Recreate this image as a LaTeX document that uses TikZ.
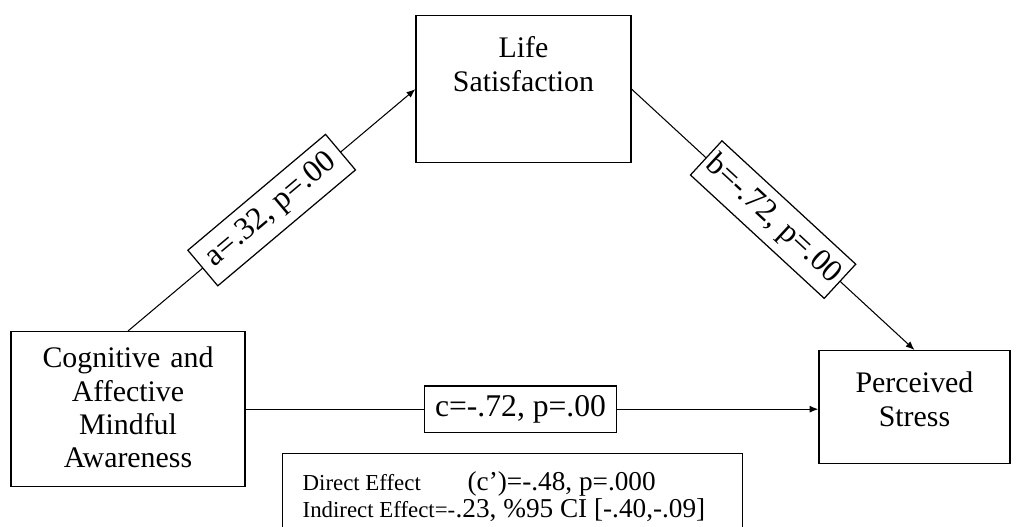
\documentclass[tikz,border=0pt]{standalone}
\usepackage{fontspec}
\setmainfont{Liberation Serif}
\usetikzlibrary{positioning, arrows.meta}

\begin{document}
\begin{tikzpicture}[x=0.02cm, y=-0.02cm,
  var/.style={draw, line width=0.8pt, align=center, inner sep=0pt, font=\fontsize{17}{19}\selectfont},
  coef/.style={draw, fill=white, line width=0.7pt, inner sep=0pt, minimum height=0.93cm, font=\fontsize{18}{20}\selectfont},
  link/.style={-{Latex[length=5pt,width=4pt]}, line width=0.6pt}]

\useasboundingbox (0,0) rectangle (1019,527);

% Nodes
\node (life) [var, anchor=north, text width=4.3cm, text height=0.84cm, text depth=2.1cm] at (523.5,15) {Life\\Satisfaction};
\node (cama) [var, anchor=north, text width=4.68cm, text height=0.72cm, text depth=2.38cm] at (128,331) {Cognitive and\\Affective\\Mindful\\Awareness};
\node (stress) [var, anchor=north, text width=3.82cm, text height=0.84cm, text depth=1.42cm] at (914.5,350) {Perceived\\Stress};
\node (effects) [draw, line width=0.8pt, anchor=north west, align=flush left, text width=8.4cm, inner xsep=0.4cm, inner ysep=0pt, text height=0.74cm, text depth=1.1cm, font=\fontsize{15.5}{15.3}\selectfont] at (282,453)
  {\makebox[3.3cm][l]{\fontsize{13}{15}\selectfont Direct Effect}(c’)=-.48, p=.000\\
   \makebox[3.06cm][l]{\fontsize{13}{15}\selectfont Indirect Effect=-}.23, \%95 CI [-.40,-.09]};

% Arrows
\draw[link] (cama.north) -- node (a) [coef, sloped, minimum width=3.6cm] {a=.32, p=.00} (life.west);
\draw[link] (life.east) -- node (b) [coef, sloped, minimum width=3.64cm] {b=-.72, p=.00} (stress.north);
\draw[link] (cama.east) -- node (c) [coef, pos=0.48, minimum width=3.84cm] {c=-.72, p=.00} (cama.east -| stress.west);

\end{tikzpicture}
\end{document}
